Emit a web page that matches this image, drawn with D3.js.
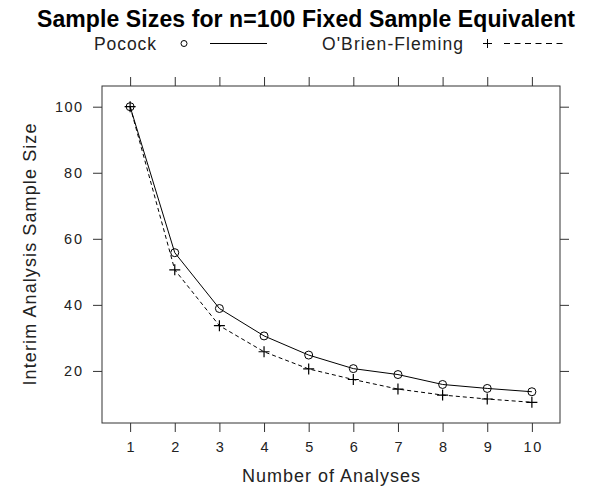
<!DOCTYPE html>
<html>
<head>
<meta charset="utf-8">
<script src="https://cdn.jsdelivr.net/npm/d3@7"></script>
<style>
  body { margin: 0; background: #fff; }
  text { font-family: "Liberation Sans", Arial, Helvetica, sans-serif; }
</style>
</head>
<body>
<div id="chart"></div>
<script>
// data
const analyses = [1, 2, 3, 4, 5, 6, 7, 8, 9, 10];
const pocock = [100, 55.8, 38.9, 30.6, 24.8, 20.7, 18.9, 15.9, 14.7, 13.7];
const obrien = [100, 50.6, 33.7, 25.8, 20.6, 17.4, 14.5, 12.7, 11.5, 10.5];
const yTicks = [20, 40, 60, 80, 100];
const seriesNames = ["Pocock", "O'Brien-Fleming"];

const W = 590, H = 490;
const margin = { top: 86, right: 30, bottom: 67, left: 102 };
const iw = W - margin.left - margin.right;
const ih = H - margin.top - margin.bottom;

const svg = d3.select("#chart").append("svg")
  .attr("width", W)
  .attr("height", H);

// lattice style padding (7% each side)
function padded(ext) {
  const r = ext[1] - ext[0];
  return [ext[0] - 0.07 * r, ext[1] + 0.07 * r];
}

// stretch text a bit with letter spacing, the reference font is wider
function spread(sel, factor) {
  sel.each(function() {
    const len = this.getComputedTextLength();
    d3.select(this).attr("textLength", len * factor).attr("lengthAdjust", "spacing");
  });
}

const x = d3.scaleLinear()
  .domain(padded(d3.extent(analyses)))
  .range([0, iw]);

const allY = pocock.concat(obrien);
const y = d3.scaleLinear()
  .domain(padded(d3.extent(allY)))
  .range([ih, 0]);

const g = svg.append("g")
  .attr("transform", `translate(${margin.left},${margin.top})`);

const axisCol = "#333";
const tickLen = 9;

function styleAxis(sel) {
  sel.select(".domain").remove();
  sel.selectAll("line").attr("stroke", axisCol);
  sel.selectAll("text")
    .style("font-size", "14.5px")
    .attr("fill", "#222");
}

// ticks on all four sides, labels only bottom and left
g.append("g")
  .attr("transform", `translate(0,${ih})`)
  .call(d3.axisBottom(x).tickValues(analyses).tickSize(tickLen).tickPadding(10).tickFormat(d3.format("d")))
  .call(styleAxis)
  .selectAll("text").attr("dy", "0.71em").call(spread, 1.1);

g.append("g")
  .call(d3.axisTop(x).tickValues(analyses).tickSize(tickLen).tickFormat(""))
  .call(styleAxis);

g.append("g")
  .call(d3.axisLeft(y).tickValues(yTicks).tickSize(tickLen).tickPadding(11))
  .call(styleAxis)
  .selectAll("text").call(spread, 1.12);

g.append("g")
  .attr("transform", `translate(${iw},0)`)
  .call(d3.axisRight(y).tickValues(yTicks).tickSize(tickLen).tickFormat(""))
  .call(styleAxis);

// frame
g.append("rect")
  .attr("width", iw)
  .attr("height", ih)
  .attr("fill", "none")
  .attr("stroke", axisCol)
  .attr("stroke-width", 1);

const line = d3.line()
  .x((d, i) => x(analyses[i]))
  .y(d => y(d));

g.append("path")
  .datum(pocock)
  .attr("d", line)
  .attr("fill", "none")
  .attr("stroke", "#000")
  .attr("stroke-width", 1);

g.append("path")
  .datum(obrien)
  .attr("d", line)
  .attr("fill", "none")
  .attr("stroke", "#000")
  .attr("stroke-width", 1)
  .attr("stroke-dasharray", "4,3");

// symbols
g.selectAll(".pt-circle")
  .data(pocock)
  .enter().append("circle")
  .attr("class", "pt-circle")
  .attr("cx", (d, i) => x(analyses[i]))
  .attr("cy", d => y(d))
  .attr("r", 4)
  .attr("fill", "none")
  .attr("stroke", "#000");

g.selectAll(".pt-plus")
  .data(obrien)
  .enter().append("path")
  .attr("class", "pt-plus")
  .attr("transform", (d, i) => `translate(${x(analyses[i])},${y(d)})`)
  .attr("d", "M-5.5,0H5.5M0,-5.5V5.5")
  .attr("fill", "none")
  .attr("stroke", "#000")
  .attr("stroke-width", 1.2);

// axis titles
svg.append("text")
  .attr("x", 331)
  .attr("y", 482)
  .attr("text-anchor", "middle")
  .style("font-size", "18px")
  .attr("fill", "#222")
  .attr("textLength", 178)
  .attr("lengthAdjust", "spacing")
  .text("Number of Analyses");

svg.append("text")
  .attr("transform", `translate(36,${margin.top + ih / 2}) rotate(-90)`)
  .attr("text-anchor", "middle")
  .style("font-size", "18px")
  .attr("fill", "#222")
  .attr("textLength", 262)
  .attr("lengthAdjust", "spacing")
  .text("Interim Analysis Sample Size");

// title
svg.append("text")
  .attr("x", 306)
  .attr("y", 27)
  .attr("text-anchor", "middle")
  .style("font-size", "23px")
  .style("font-weight", "700")
  .attr("fill", "#000")
  .attr("textLength", 538)
  .attr("lengthAdjust", "spacing")
  .text("Sample Sizes for n=100 Fixed Sample Equivalent");

// legend
const leg = svg.append("g").attr("class", "legend");
const legY = 43.5;
leg.append("text").attr("x", 94).attr("y", 50)
  .style("font-size", "17.5px").attr("fill", "#222")
  .attr("textLength", 62).attr("lengthAdjust", "spacing")
  .text(seriesNames[0]);
leg.append("circle").attr("cx", 184).attr("cy", legY).attr("r", 3)
  .attr("fill", "none").attr("stroke", "#000");
leg.append("line").attr("x1", 210).attr("x2", 267).attr("y1", legY).attr("y2", legY)
  .attr("stroke", "#000");
leg.append("text").attr("x", 322).attr("y", 50)
  .style("font-size", "17.5px").attr("fill", "#222")
  .attr("textLength", 141).attr("lengthAdjust", "spacing")
  .text(seriesNames[1]);
leg.append("path").attr("transform", `translate(487.5,${legY})`)
  .attr("d", "M-4.5,0H4.5M0,-4.5V4.5").attr("stroke", "#000").attr("fill", "none");
leg.append("line").attr("x1", 504).attr("x2", 567).attr("y1", legY).attr("y2", legY)
  .attr("stroke", "#000").attr("stroke-dasharray", "6,4.5");
</script>
</body>
</html>
